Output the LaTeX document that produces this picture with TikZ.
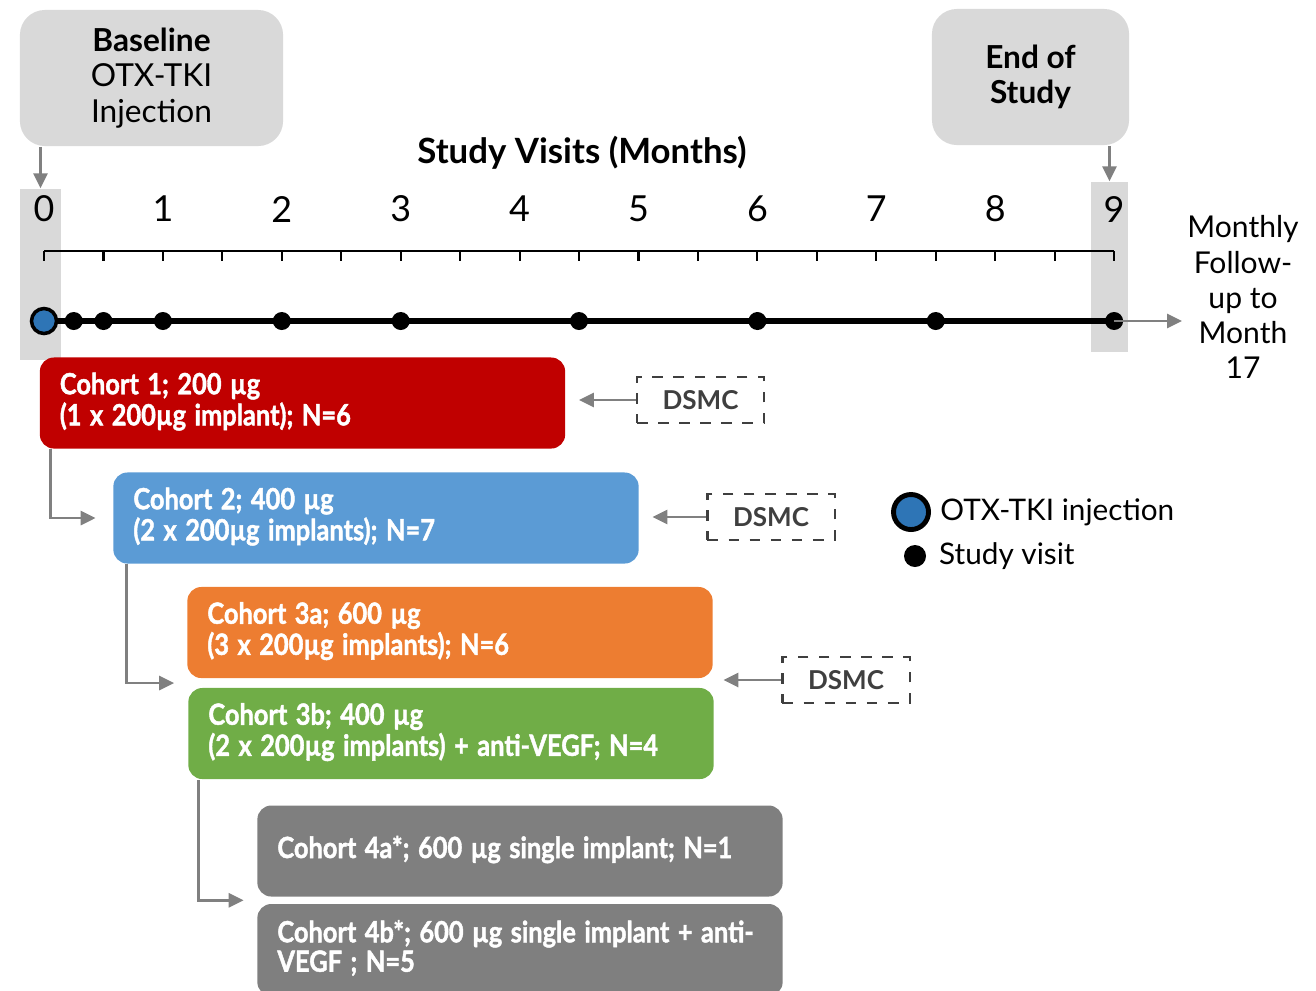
\documentclass[tikz,border=0pt]{standalone}
\usepackage{fontspec}
\setmainfont{Lato}
\newfontfamily\cohortfam{Lato}[FakeBold=1.6]
\usetikzlibrary{positioning,arrows.meta,calc}
\definecolor{boxgray}{HTML}{D9D9D9}
\definecolor{conngray}{HTML}{808080}
\definecolor{dsmcgray}{HTML}{3F3F3F}
\definecolor{injblue}{HTML}{2E75B6}
\definecolor{c1red}{HTML}{C00000}
\definecolor{c2blue}{HTML}{5B9BD5}
\definecolor{c3orange}{HTML}{ED7D31}
\definecolor{c3green}{HTML}{70AD47}
\definecolor{c4gray}{HTML}{7F7F7F}
\newcommand{\boxfont}{\fontsize{9pt}{10pt}\selectfont}
\newcommand{\numfont}{\fontsize{10.2pt}{12pt}\selectfont}
\newcommand{\cohortfont}{\cohortfam\bfseries\fontsize{8.3pt}{8.3pt}\selectfont}
\newcommand{\dsmcfont}{\bfseries\fontsize{7.4pt}{8pt}\selectfont}
\newcommand{\legfont}{\fontsize{8.45pt}{11pt}\selectfont}
% narrow bold lines for the cohort boxes
\newcommand{\cohorttext}[1]{\renewcommand{\arraystretch}{0.93}\scalebox{0.87}[1]{\begin{tabular}{@{}l@{}}#1\end{tabular}}}
\begin{document}
\begin{tikzpicture}[x=0.01cm, y=-0.01cm,
		conn/.style={draw=conngray, line width=0.8pt, -{Triangle[length=0.15cm,width=0.14cm]}},
		greybox/.style={fill=boxgray, rounded corners=0.25cm, align=center, font=\boxfont, inner sep=0pt},
		cohort/.style={rounded corners=0.14cm, minimum width=5.25cm, minimum height=0.91cm, text width=4.85cm, align=left, text=white, font=\cohortfont, inner sep=0pt},
		dsmc/.style={draw=dsmcgray, dashed, line width=0.6pt, minimum width=1.27cm, minimum height=0.46cm, font=\dsmcfont, text=dsmcgray, inner sep=0pt},
		visit/.style={circle, fill=black, inner sep=0pt, minimum size=0.18cm},
		inj/.style={circle, fill=injblue, draw=black, line width=1pt, inner sep=0pt, minimum size=0.25cm},
		col/.style={fill=boxgray, inner sep=0pt},
		axis/.style={line width=0.6pt}]
		\useasboundingbox (0,0) rectangle (1316,990);
		% top boxes and grey columns
		\node[greybox, minimum width=2.63cm, minimum height=1.36cm] (base) at (151.5,78) {\textbf{Baseline}\\OTX-TKI\\Injection};
		\node[greybox, minimum width=1.97cm, minimum height=1.36cm] (eos) at (1030.5,77) {\textbf{End of}\\\textbf{Study}};
		\node[col, minimum width=0.41cm, minimum height=1.71cm] (col0) at (40.5,274.5) {};
		\node[col, minimum width=0.37cm, minimum height=1.70cm] (col9) at (1109.5,267) {};
		\draw[conn] (base.south -| col0.north) -- (col0.north);
		\draw[conn] (eos.south -| col9.north) -- (col9.north);
		
		\node[font=\bfseries\numfont, scale=0.97] (title) at (582,153) {Study Visits (Months)};
		% month axis
		\foreach \m in {0,...,9} {
			\node[font=\numfont] (m\m) at ({44+118.9*\m},209) {\m};
		};
		\draw[axis] (44,251) -- (1114,251);
		\foreach \h in {0,...,18} {
			\draw[axis] ({44+59.45*\h},251) -- ++(0,10);
		};
		% timeline with visits
		\coordinate (t0) at (44,321);
		\coordinate (t9) at (1114,321);
		\draw[line width=1.5pt] (t0) -- (t9);
		\foreach \v [count=\p] in {0.25,0.5,1,2,3,4.5,6,7.5,9} {
			\node[visit] (v\p) at ({44+118.9*\v},321) {};
		};
		\node[inj] (inj) at (t0) {};
		\coordinate (fuend) at (1182,321);
		\draw[conn] (v9.center) -- (fuend);
		\node[align=center, font=\fontsize{9pt}{10.5pt}\selectfont, scale=0.95] (fu) at (1243,297) {Monthly\\Follow-\\up to\\Month\\17};
		
		% cohorts
		\node[cohort, fill=c1red] (c1) at (302.5,403) {\cohorttext{Cohort 1; 200 µg\\(1 x 200µg implant); N=6}};
		\node[cohort, fill=c2blue] (c2) at (376,518) {\cohorttext{Cohort 2; 400 µg\\(2 x 200µg implants); N=7}};
		\node[cohort, fill=c3orange] (c3a) at (450,632.5) {\cohorttext{Cohort 3a; 600 µg\\(3 x 200µg implants); N=6}};
		\node[cohort, fill=c3green] (c3b) at (451,733.5) {\cohorttext{Cohort 3b; 400 µg\\(2 x 200µg implants) + anti-VEGF; N=4}};
		\node[cohort, fill=c4gray] (c4a) at (520,851) {\cohorttext{Cohort 4a*; 600 µg single implant; N=1}};
		\node[cohort, fill=c4gray, minimum height=0.92cm] (c4b) at (520,950) {\cohorttext{Cohort 4b*; 600 µg single implant + anti-\\VEGF ; N=5}};
		
		\draw[conn] ([xshift=0.11cm]c1.south west) |- ([xshift=-0.17cm]c2.west);
		\draw[conn] ([xshift=0.14cm]c2.south west) |- ([xshift=-0.13cm]$(c3a.south west)!0.5!(c3b.north west)$);
		\draw[conn] ([xshift=0.11cm]c3b.south west) |- ([xshift=-0.13cm]$(c4a.south west)!0.5!(c4b.north west)$);
		
		% DSMC reviews
		\node[dsmc] (d1) at (700.5,400) {DSMC};
		\node[dsmc] (d2) at (771,517) {DSMC};
		\node[dsmc] (d3) at (846,680) {DSMC};
		\draw[conn] (d1.west) -- ([xshift=0.13cm]d1.west -| c1.east);
		\draw[conn] (d2.west) -- ([xshift=0.13cm]d2.west -| c2.east);
		\draw[conn] (d3.west) -- ([xshift=0.10cm]d3.west -| c3a.east);
		
		% legend
		\node[inj, minimum size=0.35cm, line width=1.4pt] (leginj) at (911,512) {};
		\node[right=-0.03cm of leginj, font=\legfont] (leginjtxt) {OTX-TKI injection};
		\node[visit, minimum size=0.22cm] (legvis) at (915,556) {};
		\node[right=0cm of legvis, font=\legfont] (legvistxt) {Study visit};
\end{tikzpicture}
\end{document}
